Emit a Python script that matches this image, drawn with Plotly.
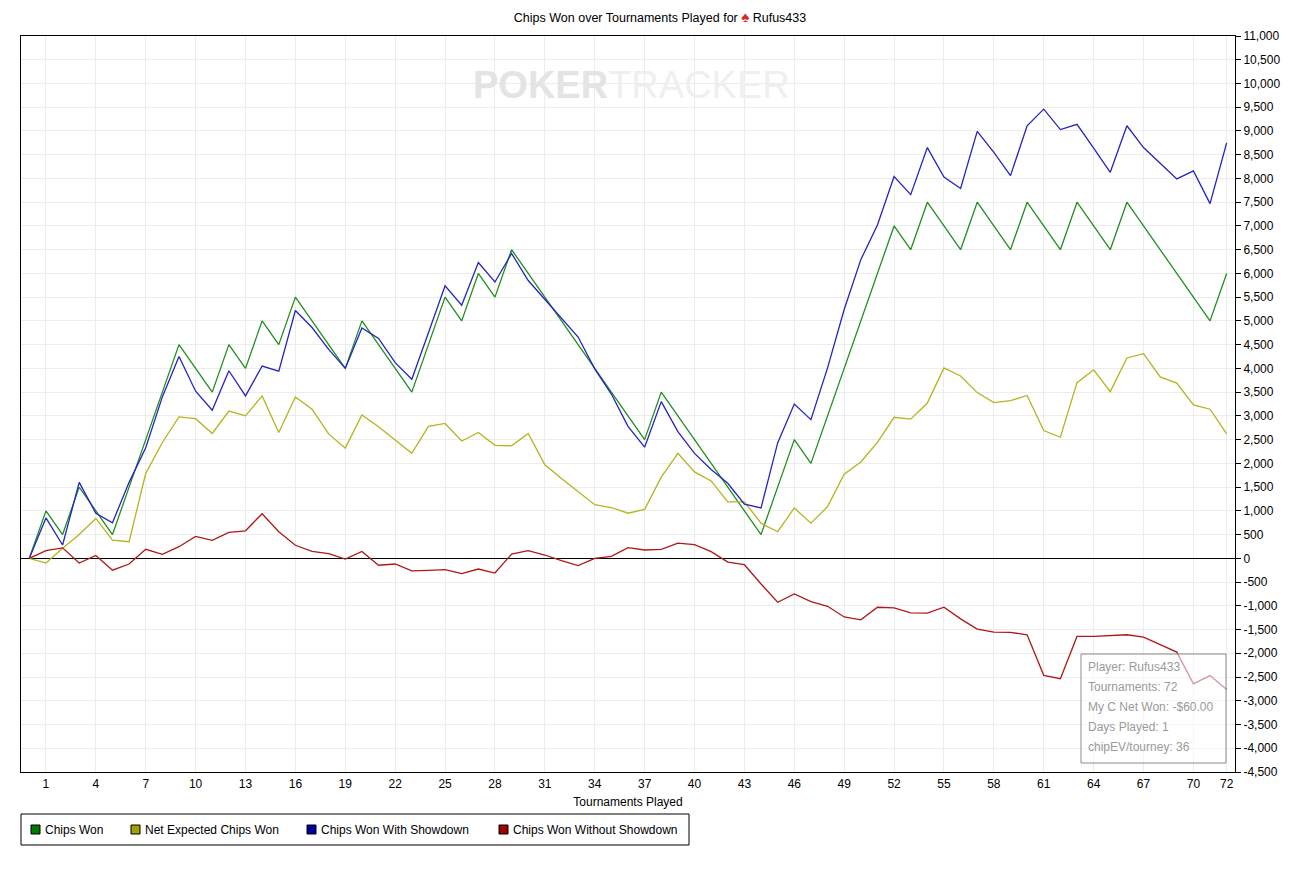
import plotly.graph_objects as go

# ---------------- data ----------------
tournaments = list(range(0, 73))

chips_won = [0, 1000, 500, 1500, 1000, 500, 1500, 2500, 3500, 4500,
             4000, 3500, 4500, 4000, 5000, 4500, 5500, 5000, 4500, 4000,
             5000, 4500, 4000, 3500, 4500, 5500, 5000, 6000, 5500, 6500,
             6000, 5500, 5000, 4500, 4000, 3500, 3000, 2500, 3500, 3000,
             2500, 2000, 1500, 1000, 500, 1500, 2500, 2000, 3000, 4000,
             5000, 6000, 7000, 6500, 7500, 7000, 6500, 7500, 7000, 6500,
             7500, 7000, 6500, 7500, 7000, 6500, 7500, 7000, 6500, 6000,
             5500, 5000, 6000]

net_expected = [0, -100, 210, 500, 840, 385, 350, 1790, 2440, 2980,
                2940, 2630, 3100, 3000, 3420, 2650, 3400, 3140, 2620, 2320,
                3020, 2770, 2490, 2210, 2780, 2840, 2470, 2650, 2380, 2370,
                2630, 1970, 1680, 1400, 1130, 1070, 950, 1030, 1710, 2210,
                1820, 1630, 1190, 1190, 740, 560, 1060, 740, 1090, 1770,
                2030, 2440, 2970, 2930, 3270, 4010, 3840, 3490, 3280, 3320,
                3430, 2690, 2550, 3700, 3970, 3510, 4220, 4310, 3820, 3690,
                3230, 3140, 2620]

with_showdown = [0, 850, 280, 1600, 950, 750, 1600, 2330, 3400, 4250,
                 3520, 3120, 3950, 3420, 4050, 3940, 5220, 4860, 4400, 4000,
                 4850, 4630, 4120, 3770, 4750, 5740, 5330, 6230, 5820, 6420,
                 5850, 5450, 5070, 4660, 3990, 3460, 2780, 2340, 3300, 2670,
                 2210, 1870, 1580, 1140, 1060, 2430, 3250, 2920, 4010, 5240,
                 6290, 7020, 8040, 7660, 8650, 8030, 7790, 8990, 8550, 8060,
                 9110, 9460, 9030, 9140, 8640, 8130, 9110, 8650, 8320, 7990,
                 8160, 7470, 8750]

without_showdown = [0, 160, 220, -100, 60, -250, -120, 190, 85, 245,
                    460, 380, 545, 580, 940, 560, 275, 145, 100, -15,
                    145, -145, -120, -265, -255, -240, -320, -225, -310, 90,
                    160, 70, -50, -155, 0, 40, 225, 175, 190, 320,
                    290, 140, -80, -135, -540, -925, -750, -910, -1010, -1235,
                    -1295, -1030, -1045, -1150, -1155, -1030, -1275, -1490, -1555, -1560,
                    -1610, -2465, -2535, -1645, -1645, -1625, -1610, -1660, -1820, -1975,
                    -2645, -2470, -2760]

series_names = ["Chips Won", "Net Expected Chips Won",
                "Chips Won With Showdown", "Chips Won Without Showdown"]
series_values = [chips_won, net_expected, with_showdown, without_showdown]
line_colors = ["#1f8f1f", "#b4b41e", "#2424c0", "#b01818"]
legend_colors = ["#007a00", "#a0a000", "#0000a0", "#a00000"]

x_tick_vals = [1, 4, 7, 10, 13, 16, 19, 22, 25, 28, 31, 34, 37, 40, 43, 46,
               49, 52, 55, 58, 61, 64, 67, 70, 72]
x_tick_text = ["1", "4", "7", "10", "13", "16", "19", "22", "25", "28", "31",
               "34", "37", "40", "43", "46", "49", "52", "55", "58", "61",
               "64", "67", "70", "72"]

y_tick_vals = [-4500, -4000, -3500, -3000, -2500, -2000, -1500, -1000, -500, 0,
               500, 1000, 1500, 2000, 2500, 3000, 3500, 4000, 4500, 5000,
               5500, 6000, 6500, 7000, 7500, 8000, 8500, 9000, 9500, 10000,
               10500, 11000]
y_tick_text = ["-4,500", "-4,000", "-3,500", "-3,000", "-2,500", "-2,000",
               "-1,500", "-1,000", "-500", "0", "500", "1,000", "1,500",
               "2,000", "2,500", "3,000", "3,500", "4,000", "4,500", "5,000",
               "5,500", "6,000", "6,500", "7,000", "7,500", "8,000", "8,500",
               "9,000", "9,500", "10,000", "10,500", "11,000"]

info_lines = ["Player: Rufus433", "Tournaments: 72", "My C Net Won: -$60.00",
              "Days Played: 1", "chipEV/tourney: 36"]

# ---------------- layout helpers ----------------
# page (screenshot) pixel positions of the plot area
OFF = 8                     # default page body margin
FW, FH = 1284, 856          # figure size
L, R, T, B = 21, 1235, 36, 772


def px_x(px):
    return (px - L) / (R - L)


def px_y(py):
    return (B - py) / (B - T)


FONT = "Liberation Sans, Arial, sans-serif"

fig = go.Figure()
for name, vals, col in zip(series_names, series_values, line_colors):
    fig.add_trace(go.Scatter(x=tournaments, y=vals, mode="lines", name=name,
                             line=dict(color=col, width=1.3),
                             showlegend=False))

shapes = []
annotations = []

# watermark
annotations.append(dict(
    text="<b><span style='color:#e4e4e4'>POKER</span></b>"
         "<span style='color:#efefef'>TRACKER</span>",
    x=px_x(631), y=px_y(85), xref="paper", yref="paper",
    xanchor="center", yanchor="middle", showarrow=False,
    font=dict(family=FONT, size=38, color="#e6e6e6")))

# custom legend
shapes.append(dict(type="rect", xref="paper", yref="paper",
                   x0=px_x(21), x1=px_x(689), y0=px_y(845), y1=px_y(814),
                   line=dict(color="black", width=1), fillcolor="white"))
legend_sq_x = [31, 131, 307, 499]
for name, col, sx in zip(series_names, legend_colors, legend_sq_x):
    shapes.append(dict(type="rect", xref="paper", yref="paper",
                       x0=px_x(sx), x1=px_x(sx + 9), y0=px_y(834), y1=px_y(825),
                       line=dict(color="black", width=1), fillcolor=col))
    annotations.append(dict(text=name, x=px_x(sx + 12), y=px_y(829.5),
                            xref="paper", yref="paper", xanchor="left",
                            yanchor="middle", showarrow=False,
                            font=dict(family=FONT, size=12, color="black")))

# info box
shapes.append(dict(type="rect", xref="paper", yref="paper", layer="above",
                   x0=px_x(1081), x1=px_x(1226), y0=px_y(763), y1=px_y(654),
                   line=dict(color="#8a8a8a", width=1),
                   fillcolor="rgba(255,255,255,0.55)"))
for i, txt in enumerate(info_lines):
    annotations.append(dict(text=txt, x=px_x(1086), y=px_y(667 + 20 * i),
                            xref="paper", yref="paper", xanchor="left",
                            yanchor="middle", showarrow=False,
                            font=dict(family=FONT, size=12, color="#9a9a9a")))

fig.update_layout(
    width=FW, height=FH, autosize=False,
    margin=dict(l=L - OFF, r=(OFF + FW) - R, t=T - OFF, b=(OFF + FH) - B, pad=0),
    paper_bgcolor="white", plot_bgcolor="white",
    font=dict(family=FONT, size=12, color="black"),
    title=dict(text="Chips Won over Tournaments Played for "
                    "<span style='color:#d42b2b;font-size:15px'>♠</span> Rufus433",
               x=(660 - OFF) / FW, xref="container", xanchor="center",
               y=1 - (18 - OFF) / FH, yref="container", yanchor="middle",
               font=dict(family=FONT, size=12.5, color="black")),
    showlegend=False,
    shapes=shapes, annotations=annotations,
    hovermode=False,
)

fig.update_xaxes(range=[-0.5, 72.5], tickmode="array", tickvals=x_tick_vals,
                 ticktext=x_tick_text, ticks="outside", ticklen=1,
                 tickcolor="rgba(0,0,0,0)", automargin=False,
                 showgrid=True, gridcolor="#ececec", gridwidth=1,
                 showline=True, linecolor="black", linewidth=1, mirror=True,
                 zeroline=False,
                 tickfont=dict(family=FONT, size=12, color="black"),
                 title=dict(text="Tournaments Played", standoff=7,
                            font=dict(family=FONT, size=12, color="black")))

fig.update_yaxes(range=[-4500, 11000], side="right", tickmode="array",
                 tickvals=y_tick_vals, ticktext=y_tick_text,
                 ticks="outside", ticklen=5, tickcolor="black", automargin=False,
                 showgrid=True, gridcolor="#ececec", gridwidth=1,
                 showline=True, linecolor="black", linewidth=1, mirror=True,
                 zeroline=True, zerolinecolor="black", zerolinewidth=1,
                 tickfont=dict(family=FONT, size=12, color="black"))

fig.write_html("out.html")
